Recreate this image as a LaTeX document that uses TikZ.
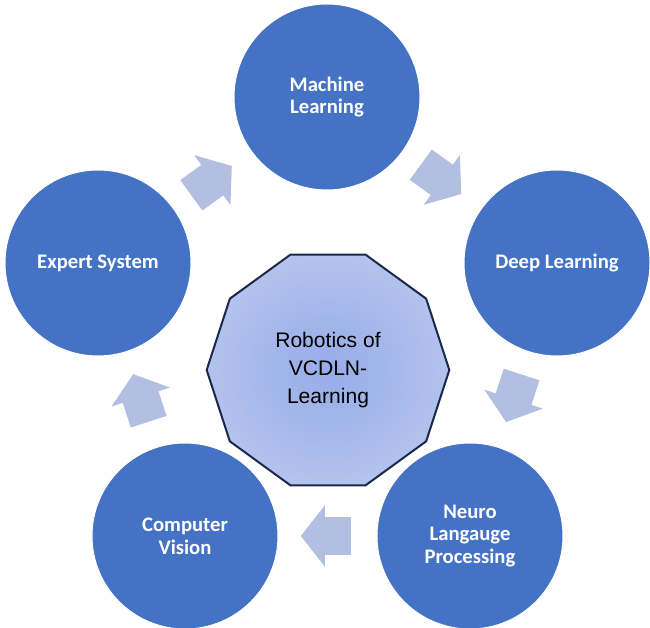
\documentclass[tikz,border=0pt]{standalone}
\usepackage{fontspec}
\setmainfont{Carlito}
\newfontfamily\hubfont{Liberation Sans}
\usetikzlibrary{positioning, calc, shapes.geometric, shapes.arrows}
\definecolor{topicblue}{RGB}{68,114,196}
\definecolor{arrowblue}{RGB}{178,191,225}
\definecolor{hubinner}{RGB}{150,172,232}
\definecolor{hubouter}{RGB}{208,217,244}
\definecolor{hubline}{RGB}{28,40,72}
\pgfdeclareradialshading{hubglow}{\pgfpoint{0bp}{0bp}}{color(0bp)=(hubinner); color(50bp)=(hubouter)}

\begin{document}
\begin{tikzpicture}
    [
        x=0.75pt, y=0.75pt,
        topic/.style={circle, draw=white, line width=0.75pt, fill=topicblue, minimum size=139.5pt, inner sep=0pt, text=white, align=center, font=\fontsize{15.5}{17}\selectfont\bfseries},
        hub/.style={regular polygon, regular polygon sides=10, draw=hubline, line width=1.5pt, shade, shading=hubglow, minimum size=182pt, inner sep=0pt, align=center, font=\hubfont\fontsize{15.8}{21}\selectfont},
        flow/.style={single arrow, draw=none, fill=arrowblue, minimum height=37.5pt, inner xsep=0pt, inner ysep=13.9pt, single arrow head extend=9pt, single arrow tip angle=104},
    ]
        \useasboundingbox (0,0) rectangle (650,628) ;
        \node[hub] (hub) at (328,258) {Robotics of\\VCDLN-\\Learning} ;
        \node[topic] (ml) at (327,531) {Machine\\Learning} ;
        \node[topic] (dl) at (557,365) {Deep Learning} ;
        \node[topic] (nlp) at (470,92) {Neuro\\Langauge\\Processing} ;
        \node[topic] (cv) at (185,92) {Computer\\Vision} ;
        \node[topic] (es) at (98,365) {Expert System} ;
        \node[flow, rotate=-36] (a1) at ($(ml)!0.47!(dl)$) {} ;
        \node[flow, rotate=-108] (a2) at ($(dl)!0.47!(nlp)$) {} ;
        \node[flow, rotate=180] (a3) at ($(nlp)!0.48!(cv)$) {} ;
        \node[flow, rotate=108] (a4) at ($(cv)!0.48!(es)$) {} ;
        \node[flow, rotate=36] (a5) at ($(es)!0.47!(ml)$) {} ;
    \end{tikzpicture}
\end{document}
